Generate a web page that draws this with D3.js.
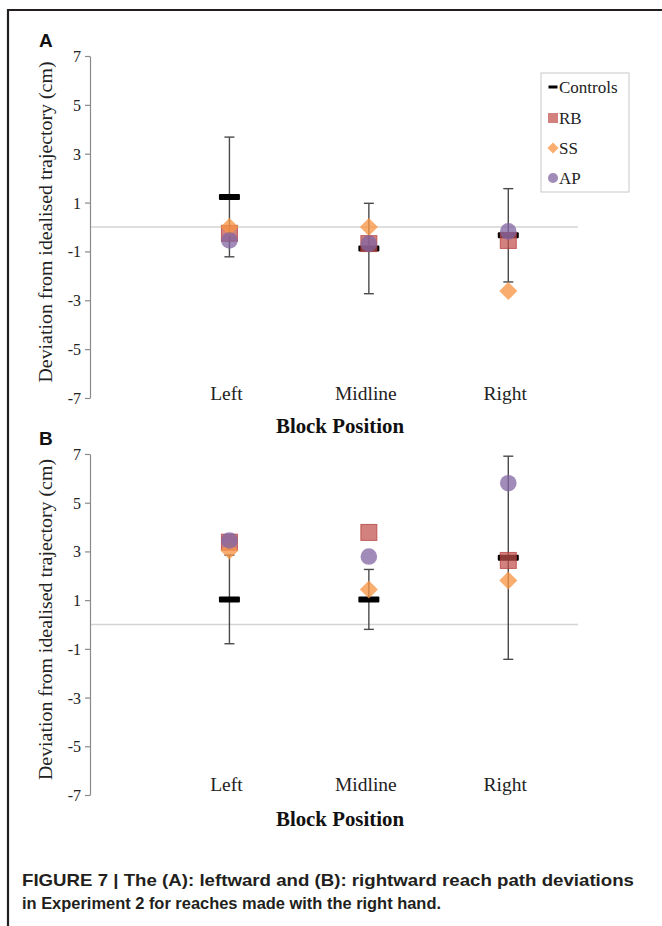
<!DOCTYPE html>
<html>
<head>
<meta charset="utf-8">
<script src="https://cdn.jsdelivr.net/npm/d3@7"></script>
<style>
  html, body { margin: 0; padding: 0; background: #fff; }
  svg { display: block; }
</style>
</head>
<body>
<svg id="chart" width="662" height="926"></svg>
<script>
// ---- data ----
const categories = ["Left", "Midline", "Right"];
const seriesNames = ["Controls", "RB", "SS", "AP"];
const yTicks = [-7, -5, -3, -1, 1, 3, 5, 7];

// Panel A (leftward)
const controlsA = [1.23, -0.88, -0.34];
const controlsErrA = [2.45, 1.85, 1.91];
const rbA = [-0.26, -0.68, -0.55];
const ssA = [0.0, 0.0, -2.62];
const apA = [-0.55, -0.68, -0.18];

// Panel B (rightward)
const controlsB = [1.03, 1.03, 2.74];
const controlsErrB = [1.82, 1.23, 4.17];
const rbB = [3.38, 3.78, 2.63];
const ssB = [3.04, 1.44, 1.81];
const apB = [3.45, 2.79, 5.80];

const captionLines = [
  "FIGURE 7 | The (A): leftward and (B): rightward reach path deviations",
  "in Experiment 2 for reaches made with the right hand."
];

// ---- styles ----
const serif = "'Liberation Serif', 'Times New Roman', serif";
const sans = "'Liberation Sans', Arial, sans-serif";
const colRB = "rgba(192,80,77,0.72)";
const colRBstroke = "rgba(180,60,58,0.75)";
const colSS = "rgba(247,150,70,0.78)";
const colAP = "rgba(128,100,162,0.75)";

const svg = d3.select("#chart");

// frame
svg.append("path")
  .attr("d", "M8,926 L8,10 L662,10")
  .attr("fill", "none").attr("stroke", "#231f20").attr("stroke-width", 2.2);

const x = d3.scaleLinear().domain([0, 3.5]).range([90, 578]);

function panel(cfg) {
  const y = d3.scaleLinear().domain([-7, 7]).range([cfg.bottom, cfg.top]);
  const g = svg.append("g");

  // panel letter
  g.append("text").attr("x", 39).attr("y", cfg.letterY)
    .attr("font-family", sans).attr("font-weight", "bold").attr("font-size", 19)
    .attr("fill", "#111").text(cfg.letter);

  // zero line
  g.append("line").attr("x1", x(0)).attr("x2", x(3.5))
    .attr("y1", y(0)).attr("y2", y(0))
    .attr("stroke", "#d4d4d4").attr("stroke-width", 1.3);

  // y axis
  const axis = d3.axisLeft(y).tickValues(yTicks).tickSize(5).tickSizeOuter(0)
    .tickFormat(d => String(d));
  const ag = g.append("g").attr("transform", `translate(${x(0)},0)`).call(axis);
  ag.select(".domain").attr("stroke", "#8a8a8a").attr("stroke-width", 1.2);
  ag.selectAll(".tick line").attr("stroke", "#8a8a8a").attr("stroke-width", 1.2);
  ag.selectAll(".tick text").attr("font-family", serif).attr("font-size", 16)
    .attr("fill", "#222").attr("x", -9).attr("dy", "0.34em");

  // y title
  g.append("text")
    .attr("transform", `translate(52,${(cfg.top + cfg.bottom) / 2 - 5}) rotate(-90)`)
    .attr("text-anchor", "middle")
    .attr("font-family", serif).attr("font-size", 19).attr("fill", "#222")
    .attr("textLength", 321).attr("lengthAdjust", "spacingAndGlyphs")
    .text("Deviation from idealised trajectory (cm)");

  // category labels
  g.selectAll(".cat").data(categories).join("text")
    .attr("x", (d, i) => x(i + 1) - 3).attr("y", cfg.catY)
    .attr("text-anchor", "middle").attr("font-family", serif)
    .attr("font-size", 19.5).attr("fill", "#222").text(d => d);

  // x title
  g.append("text").attr("x", 340).attr("y", cfg.titleY)
    .attr("text-anchor", "middle").attr("font-family", serif)
    .attr("font-weight", "bold").attr("font-size", 20).attr("fill", "#111")
    .attr("textLength", 128).attr("lengthAdjust", "spacingAndGlyphs")
    .text("Block Position");

  // error bars
  const eb = g.append("g");
  cfg.controls.forEach((v, i) => {
    const cx = x(i + 1), hi = y(v + cfg.err[i]), lo = y(v - cfg.err[i]);
    eb.append("line").attr("x1", cx).attr("x2", cx).attr("y1", hi).attr("y2", lo)
      .attr("stroke", "#4a4a4a").attr("stroke-width", 1.4);
    [hi, lo].forEach(yy => eb.append("line").attr("x1", cx - 5).attr("x2", cx + 5)
      .attr("y1", yy).attr("y2", yy).attr("stroke", "#4a4a4a").attr("stroke-width", 1.4));
  });

  // controls mean (dash)
  g.selectAll(".ctrl").data(cfg.controls).join("rect")
    .attr("x", (d, i) => x(i + 1) - 10.5).attr("y", d => y(d) - 3)
    .attr("width", 21).attr("height", 6).attr("rx", 1)
    .attr("fill", "#000");

  // RB squares
  g.selectAll(".rb").data(cfg.rb).join("rect")
    .attr("x", (d, i) => x(i + 1) - 8).attr("y", d => y(d) - 8)
    .attr("width", 16).attr("height", 16)
    .attr("fill", colRB).attr("stroke", colRBstroke).attr("stroke-width", 1);

  // SS diamonds
  g.selectAll(".ss").data(cfg.ss).join("path")
    .attr("d", (d, i) => {
      const cx = x(i + 1), cy = y(d), r = 9;
      return `M${cx},${cy - r}L${cx + r},${cy}L${cx},${cy + r}L${cx - r},${cy}Z`;
    })
    .attr("fill", colSS);

  // AP circles
  g.selectAll(".ap").data(cfg.ap).join("circle")
    .attr("cx", (d, i) => x(i + 1)).attr("cy", d => y(d)).attr("r", 8.3)
    .attr("fill", colAP);
}

panel({ letter: "A", letterY: 47, top: 56, bottom: 398, catY: 400, titleY: 433,
  controls: controlsA, err: controlsErrA, rb: rbA, ss: ssA, ap: apA });
panel({ letter: "B", letterY: 445, top: 454, bottom: 795, catY: 791, titleY: 826,
  controls: controlsB, err: controlsErrB, rb: rbB, ss: ssB, ap: apB });

// legend
const lg = svg.append("g");
lg.append("rect").attr("x", 541).attr("y", 73).attr("width", 88).attr("height", 119)
  .attr("fill", "#fff").attr("stroke", "#c8c8c8").attr("stroke-width", 1);
const legY = [87, 118, 148, 178];
seriesNames.forEach((name, i) => {
  const cy = legY[i], mx = 553;
  if (name === "Controls") {
    lg.append("rect").attr("x", mx - 4.5).attr("y", cy - 1.5).attr("width", 9).attr("height", 3).attr("fill", "#000");
  } else if (name === "RB") {
    lg.append("rect").attr("x", mx - 5).attr("y", cy - 5).attr("width", 10).attr("height", 10).attr("fill", colRB);
  } else if (name === "SS") {
    const r = 5.5;
    lg.append("path").attr("d", `M${mx},${cy - r}L${mx + r},${cy}L${mx},${cy + r}L${mx - r},${cy}Z`).attr("fill", colSS);
  } else {
    lg.append("circle").attr("cx", mx).attr("cy", cy).attr("r", 5).attr("fill", colAP);
  }
  lg.append("text").attr("x", 559).attr("y", cy + 6)
    .attr("font-family", serif).attr("font-size", 17).attr("fill", "#222").text(name);
});

// caption
const capW = [612, 419];
captionLines.forEach((t, i) => {
  svg.append("text").attr("x", 22).attr("y", 886 + i * 23)
    .attr("font-family", "'Liberation Sans Narrow', " + sans)
    .attr("font-weight", "bold").attr("font-size", 17).attr("fill", "#231f20")
    .attr("textLength", capW[i]).attr("lengthAdjust", "spacingAndGlyphs")
    .text(t);
});
</script>
</body>
</html>
